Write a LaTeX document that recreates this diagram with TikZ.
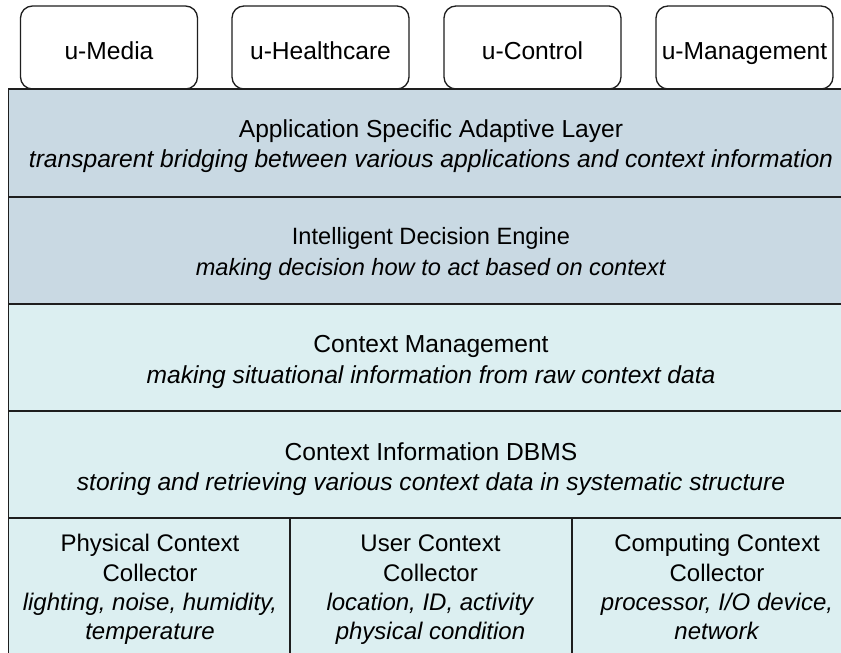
\documentclass[tikz,border=0pt]{standalone}
\usepackage{fontspec}
\setmainfont{Liberation Sans}
\definecolor{upperfill}{HTML}{C9D9E3}
\definecolor{lowerfill}{HTML}{DCEFF1}
\definecolor{edge}{HTML}{1E1E1E}
\begin{document}
\begin{tikzpicture}[x=1pt,y=-1pt,
  appbox/.style={font=\fontsize{24.6}{30}\selectfont, draw=edge, line width=1.3pt,
    rounded corners=12pt, fill=white, minimum width=177pt, minimum height=83pt,
    inner sep=0pt, text height=30pt, text depth=6pt},
  layer/.style={draw=edge, line width=1.3pt},
  label/.style={align=center, inner sep=0pt},
  big/.style={label, font=\fontsize{24.6}{30.5}\selectfont},
  small/.style={label, font=\fontsize{23.6}{30.5}\selectfont},
  cell/.style={label, font=\fontsize{24}{29.3}\selectfont}]
\path[use as bounding box, clip] (0,0) rectangle (841,653);
\fill[white] (0,0) rectangle (841,653);

% application boxes on top of the stack
\node[appbox] (media)   at (109,47.5)   {u-Media};
\node[appbox] (health)  at (320.5,47.5) {u-Healthcare};
\node[appbox] (control) at (532.5,47.5) {u-Control};
\node[appbox] (manage)  at (744.5,47.5) {u-Management};

% layered architecture
\draw[layer, fill=upperfill] (8.5,89)  rectangle (870,197);
\draw[layer, fill=upperfill] (8.5,197) rectangle (870,304);
\draw[layer, fill=lowerfill] (8.5,304) rectangle (870,411);
\draw[layer, fill=lowerfill] (8.5,411) rectangle (870,518);
\draw[layer, fill=lowerfill] (8.5,518) rectangle (870,680);
\draw[layer] (290,518) -- (290,680);
\draw[layer] (572,518) -- (572,680);

\node[big] (asal) at (431,146.5)
  {\strut Application Specific Adaptive Layer\\\strut\textit{transparent bridging between various applications and context information}};
\node[small] (ide) at (431,254)
  {\strut Intelligent Decision Engine\\\strut\textit{making decision how to act based on context}};
\node[big] (cm) at (431,362)
  {\strut Context Management\\\strut\textit{making situational information from raw context data}};
\node[big] (dbms) at (431,469.5)
  {\strut Context Information DBMS\\\strut\textit{storing and retrieving various context data in systematic structure}};

% collectors in the bottom row
\node[cell] (phys) at (150,590)
  {\strut Physical Context\\\strut Collector\\\strut\textit{lighting, noise, humidity,}\\\strut\textit{temperature}};
\node[cell] (user) at (430.5,590)
  {\strut User Context\\\strut Collector\\\strut\textit{location, ID, activity}\\\strut\textit{physical condition}};
\node[cell] (comp) at (717,590)
  {\strut Computing Context\\\strut Collector\\\strut\textit{processor, I/O device,}\\\strut\textit{network}};
\end{tikzpicture}
\end{document}
